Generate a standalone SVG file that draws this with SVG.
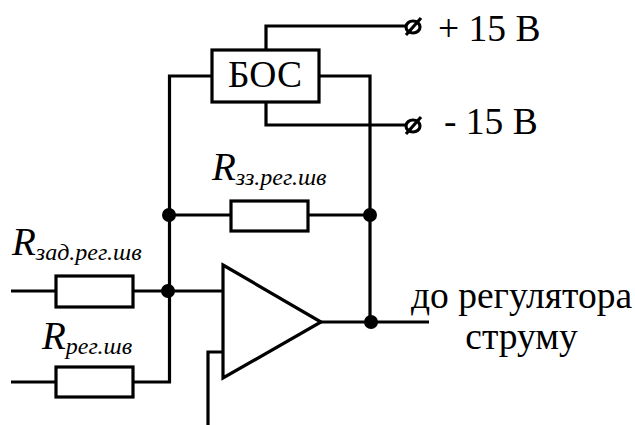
<svg xmlns="http://www.w3.org/2000/svg" width="635" height="425" viewBox="0 0 635 425">
<style>
.w{fill:none;stroke:#000;stroke-width:3.2}
.b{fill:#fff;stroke:#000;stroke-width:3.2}
.t{font-family:"Liberation Serif",serif;fill:#000;font-size:37.500px}
.r{font-family:"Liberation Serif",serif;font-style:italic;fill:#000;font-size:39px}
.s{font-size:24px}
</style>
<rect width="635" height="425" fill="#fff"/>
<g id="connectors">
<path class="w" d="M266 50V26H406"/>
<path class="w" d="M266 102V125H406"/>
<path class="w" d="M212 76H169.500V382H133"/>
<path class="w" d="M319 76H370V322"/>
<path class="w" d="M169 215H231M308 215H370"/>
<path class="w" d="M11 291H56M133 291H223"/>
<path class="w" d="M11 382H56"/>
<path class="w" d="M321 322H429"/>
<path class="w" d="M223 352H208V425"/>
</g>
<g id="bos"><rect class="b" x="212" y="50" width="107" height="52"/><text class="t" x="265" y="87" text-anchor="middle">БОС</text></g>
<g id="r-zz"><rect class="b" x="231" y="201" width="77" height="30"/><text class="r" x="212" y="180">R<tspan class="s" dy="5">зз.рег.шв</tspan></text></g>
<g id="r-zad"><rect class="b" x="56" y="276" width="77" height="31"/><text class="r" x="12" y="255">R<tspan class="s" dy="5">зад.рег.шв</tspan></text></g>
<g id="r-reg"><rect class="b" x="56" y="367" width="77" height="30"/><text class="r" x="42" y="349">R<tspan class="s" dy="5">рег.шв</tspan></text></g>
<g id="opamp"><path class="b" d="M223 265L321 322L223 378Z"/></g>
<g id="nodes"><circle cx="169" cy="215" r="7"/><circle cx="370" cy="215" r="7"/><circle cx="168" cy="291" r="7"/><circle cx="371" cy="322" r="7"/></g>
<g id="term-plus"><ellipse class="w" cx="413" cy="27" rx="7" ry="6"/><path class="w" d="M406 35L421 18"/><text class="t" x="438" y="41">+ 15 В</text></g>
<g id="term-minus"><ellipse class="w" cx="413" cy="126" rx="7" ry="6"/><path class="w" d="M406 134L421 117"/><text class="t" x="444" y="134">- 15 В</text></g>
<g id="out-label"><text class="t" x="521.500" y="308" text-anchor="middle">до регулятора</text><text class="t" x="521.500" y="349" text-anchor="middle">струму</text></g>
</svg>
